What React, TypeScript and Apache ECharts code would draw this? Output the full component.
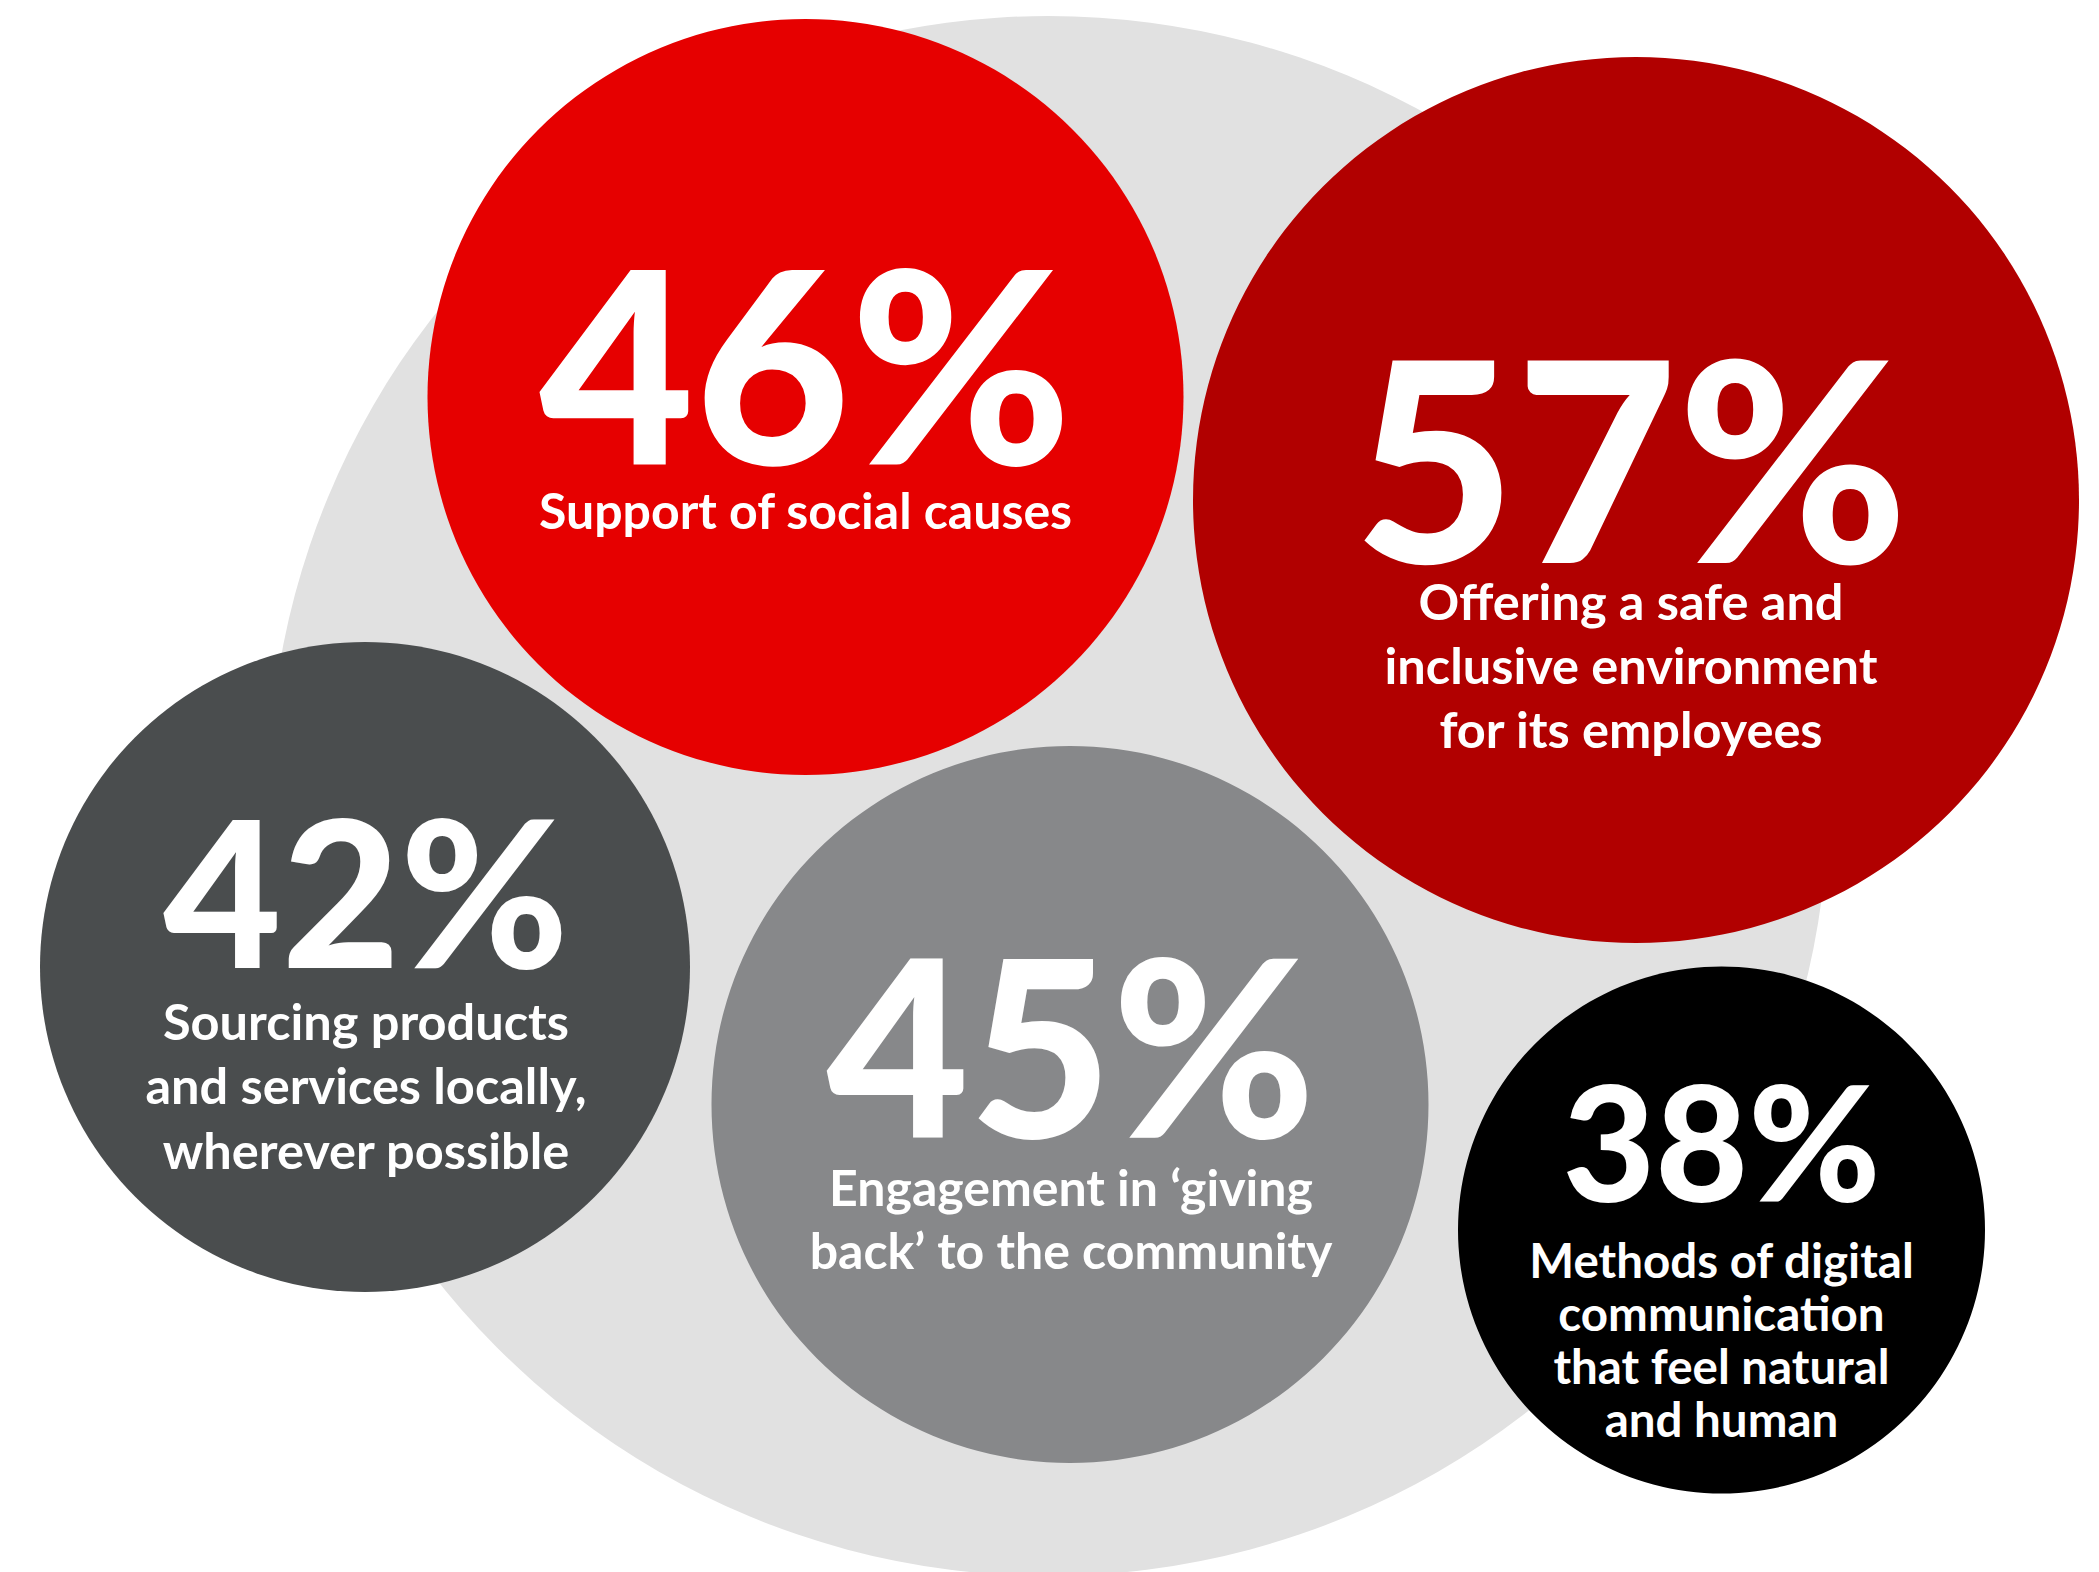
import React, { useEffect, useRef } from "react";
import * as echarts from "echarts";

// ---- data ----
const values = [46, 57, 42, 45, 38];
const descriptions = [
  ["Support of social causes"],
  ["Offering a safe and", "inclusive environment", "for its employees"],
  ["Sourcing products", "and services locally,", "wherever possible"],
  ["Engagement in \u2018giving", "back\u2019 to the community"],
  ["Methods of digital", "communication", "that feel natural", "and human"],
];

// ---- layout (pixels in a 2099 x 1572 frame) ----
const W = 2099;
const H = 1572;
const centers = [
  [805.5, 397],
  [1636, 500],
  [365, 967],
  [1070, 1104.5],
  [1721.5, 1230],
];
const radii = [378, 443, 325, 358.5, 263.5];
const colors = ["#E60000", "#B10000", "#4A4D4E", "#87888A", "#000000"];
const backdrop = { center: [1048.5, 796], radius: 780, color: "#E1E1E1" };
const pctSize = [268, 279, 204, 246, 160];
const pctLine = [235, 226, 197, 226, 185];
const descSize = [50, 50.5, 50.5, 50, 47.5];
const descLine = [64, 64, 64.5, 63, 53.3];
const labelOffset = [
  [0, -4.5],
  [-5, 51],
  [1, 19],
  [1, 1],
  [0, 16.5],
];

export default function App() {
  const ref = useRef<HTMLDivElement>(null);
  useEffect(() => {
    if (!ref.current) return;
    const chart = echarts.init(ref.current, null, { renderer: "svg" });
    const bubbles = values.map((v, i) => ({
      value: [centers[i][0], centers[i][1], v],
      symbolSize: radii[i] * 2,
      itemStyle: { color: colors[i], opacity: 1 },
      label: {
        show: true,
        position: "inside",
        offset: labelOffset[i],
        align: "center",
        opacity: 1,
        formatter:
          "{p|" + v + "%}\n" + descriptions[i].map((l) => "{d|" + l + "}").join("\n"),
        rich: {
          p: {
            fontFamily: "Lato",
            fontWeight: 900,
            fontSize: pctSize[i],
            lineHeight: pctLine[i],
            color: "#FFFFFF",
            align: "center",
          },
          d: {
            fontFamily: "Lato",
            fontWeight: 700,
            fontSize: descSize[i],
            lineHeight: descLine[i],
            color: "#FFFFFF",
            align: "center",
          },
        },
      },
    }));
    chart.setOption({
      animation: false,
      backgroundColor: "#FFFFFF",
      grid: { left: 0, right: 0, top: 0, bottom: 0 },
      xAxis: { type: "value", min: 0, max: W, show: false },
      yAxis: { type: "value", min: 0, max: H, inverse: true, show: false },
      series: [
        {
          type: "scatter",
          silent: true,
          clip: false,
          symbol: "circle",
          itemStyle: { opacity: 1 },
          data: [
            {
              value: backdrop.center,
              symbolSize: backdrop.radius * 2,
              itemStyle: { color: backdrop.color, opacity: 1 },
            },
          ],
          label: { show: false },
        },
        {
          type: "scatter",
          silent: true,
          clip: false,
          symbol: "circle",
          itemStyle: { opacity: 1 },
          data: bubbles,
        },
      ],
    });
    return () => chart.dispose();
  }, []);
  return (
    <div
      ref={ref}
      style={{ position: "absolute", left: 0, top: 0, width: W, height: H }}
    />
  );
}
